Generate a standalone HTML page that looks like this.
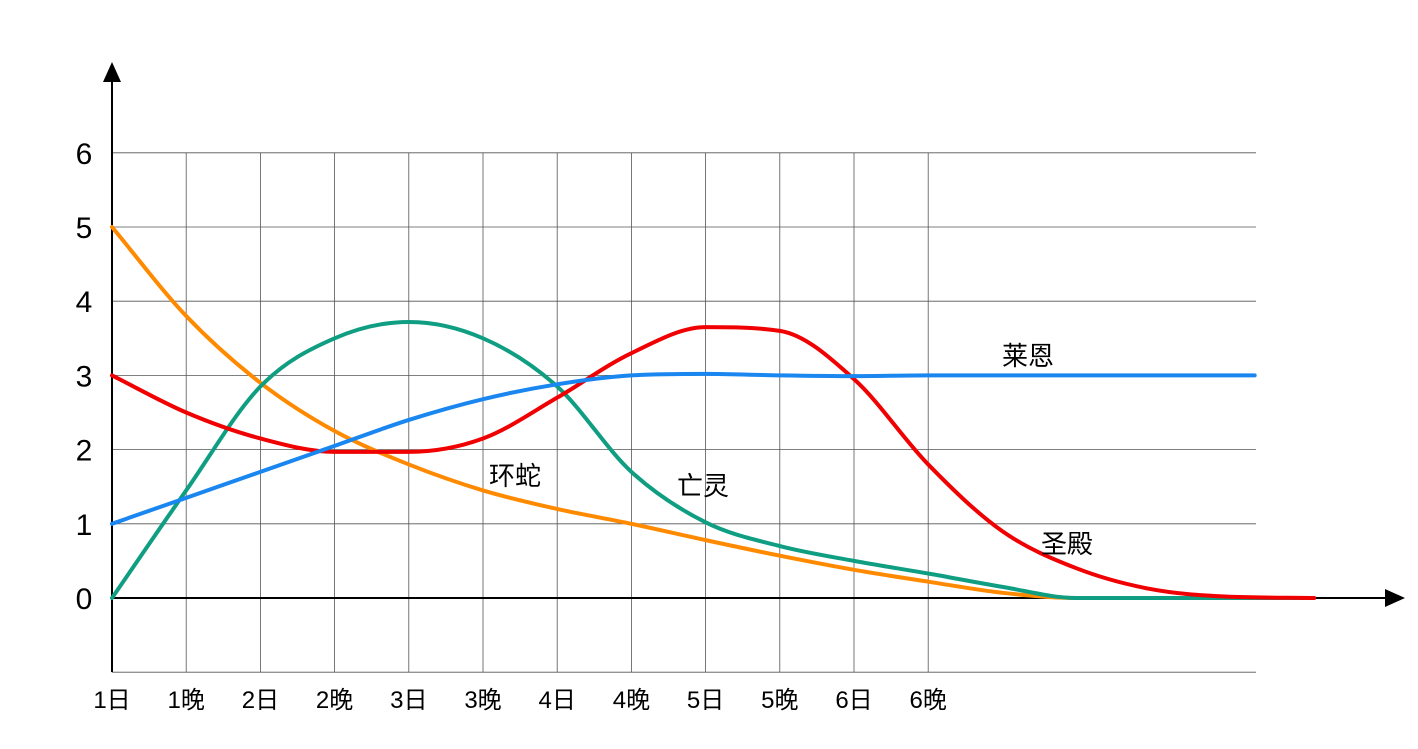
<!DOCTYPE html>
<html><head><meta charset="utf-8">
<style>
html,body{margin:0;padding:0;background:#fff;}
svg{display:block;font-family:"Liberation Sans","Noto Sans CJK SC",sans-serif;}
</style></head>
<body>
<svg id="chart" width="1418" height="749" viewBox="0 0 1418 749" xmlns="http://www.w3.org/2000/svg"></svg>
<script>
const xLabels=["1日","1晚","2日","2晚","3日","3晚","4日","4晚","5日","5晚","6日","6晚"];
const yTicks=[0,1,2,3,4,5,6];
const xsBlue=[0,1,2,3,4,5,6,7,8,9,10,11,12,13,14,15.4];
const laien=[1,1.35,1.7,2.05,2.4,2.68,2.88,3.0,3.02,3.0,2.99,3.0,3.0,3.0,3.0,3.0];
const xsAll=[0,1,2,3,4,5,6,7,8,9,10,11,12,13,14,15,16.2];
const wangling=[0,1.45,2.85,3.5,3.72,3.5,2.85,1.7,1.02,0.7,0.5,0.33,0.15,0.0,0,0,0];
const huanshe=[5,3.8,2.9,2.25,1.8,1.45,1.2,1.0,0.78,0.57,0.38,0.22,0.07,0,0,0,0];
const shengdian=[3,2.5,2.15,1.97,1.97,2.15,2.7,3.3,3.65,3.6,2.95,1.8,0.9,0.4,0.12,0.02,0];

const X0=112,DX=74.2,Y0=598,DY=74.2;
const sx=v=>X0+v*DX, sy=v=>Y0-v*DY;
const svg=document.getElementById('chart');
const NS="http://www.w3.org/2000/svg";
function mk(tag,attrs,parent){const e=document.createElementNS(NS,tag);for(const k in attrs)e.setAttribute(k,attrs[k]);(parent||svg).appendChild(e);return e;}

// grid
const grid=mk('g',{});


for(let v=-1;v<=6;v++){
  const l=mk('line',{x1:X0,x2:1256,y1:sy(v),y2:sy(v),stroke:'#555','stroke-width':0.8},grid);
  
  
}
for(let i=0;i<xLabels.length;i++){
  const l=mk('line',{x1:sx(i),x2:sx(i),y1:sy(6),y2:sy(-1),stroke:'#555','stroke-width':0.8},grid);
  
  
}
// axes
const xa=mk('line',{x1:X0,x2:1392,y1:Y0,y2:Y0,stroke:'#000','stroke-width':2});


const xh=mk('polygon',{points:'1405,598 1385,589 1385,607',fill:'#000'});


const ya=mk('line',{x1:X0,x2:X0,y1:672,y2:76,stroke:'#000','stroke-width':2});


const yh=mk('polygon',{points:'112,62 103,82 121,82',fill:'#000'});



yTicks.forEach(v=>{
  const t=mk('text',{x:84,y:sy(v)+11,'font-size':30,'text-anchor':'middle',fill:'#000'});
  t.textContent=v;
  
  
});
xLabels.forEach((s,i)=>{
  const t=mk('text',{x:sx(i),y:708,'font-size':24,'text-anchor':'middle',fill:'#000'});
  t.textContent=s;
  
  
});

// monotone cubic path
function path(xs,ys){
  const n=xs.length,px=xs.map(sx),py=ys.map(sy);
  const d=[],m=[];
  for(let i=0;i<n-1;i++)d.push((py[i+1]-py[i])/(px[i+1]-px[i]));
  m[0]=d[0];m[n-1]=d[n-2];
  for(let i=1;i<n-1;i++){m[i]=(d[i-1]*d[i]<=0)?0:(d[i-1]+d[i])/2;}
  for(let i=0;i<n-1;i++){
    if(d[i]===0){m[i]=0;m[i+1]=0;continue;}
    const a=m[i]/d[i],b=m[i+1]/d[i],s=a*a+b*b;
    if(s>9){const t=3/Math.sqrt(s);m[i]=t*a*d[i];m[i+1]=t*b*d[i];}
  }
  let p=`M${px[0]},${py[0]}`;
  for(let i=0;i<n-1;i++){
    const h=(px[i+1]-px[i])/3;
    p+=` C${px[i]+h},${py[i]+m[i]*h} ${px[i+1]-h},${py[i+1]-m[i+1]*h} ${px[i+1]},${py[i+1]}`;
  }
  return p;
}
const series=[
  {name:'series-huanshe',xs:xsAll,ys:huanshe,c:'#ff8a00'},
  {name:'series-wangling',xs:xsAll,ys:wangling,c:'#0f9e82'},
  {name:'series-shengdian',xs:xsAll,ys:shengdian,c:'#f00000'},
  {name:'series-laien',xs:xsBlue,ys:laien,c:'#1a86f0'},
];
series.forEach(s=>{
  const p=mk('path',{d:path(s.xs,s.ys),fill:'none',stroke:s.c,'stroke-width':4,'stroke-linecap':'round'});
  
  
});
const labels=[["莱恩",1028,365,'label-laien'],["环蛇",515,485,'label-huanshe'],["亡灵",703,495,'label-wangling'],["圣殿",1067,553,'label-shengdian']];
labels.forEach(l=>{
  const t=mk('text',{x:l[1],y:l[2],'font-size':26,'text-anchor':'middle',fill:'#000'});
  t.textContent=l[0];
  
  
});
</script>
</body></html>
